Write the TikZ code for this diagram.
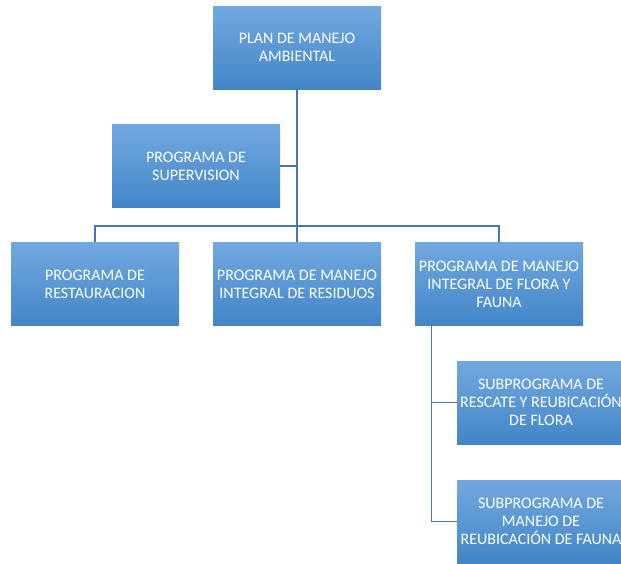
\documentclass[tikz,border=0pt]{standalone}
\usepackage{fontspec}
\setmainfont{Carlito}
\definecolor{boxtop}{RGB}{114, 168, 223}
\definecolor{boxbottom}{RGB}{66, 134, 200}
\definecolor{line}{RGB}{72, 118, 178}

\tikzset{
    prog/.style = {rectangle, minimum width = 168pt, minimum height = 83pt, inner sep = 0pt,
        top color = boxtop, bottom color = boxbottom, text = white, align = center,
        font = \fontsize{16}{18}\selectfont},
    link/.style = {draw = line, line width = 1.2pt}
}

\begin{document}
\begin{tikzpicture}[x = 1pt, y = -1pt]
    \useasboundingbox (0,0) rectangle (621,563);

    \node[prog] (plan) at (297,47.5) {PLAN DE MANEJO\\AMBIENTAL};
    \node[prog] (supervision) at (196,166) {PROGRAMA DE\\SUPERVISION};

    \node[prog] (restauracion) at (95,284) {PROGRAMA DE\\RESTAURACION};
    \node[prog] (residuos) at (297,284) {PROGRAMA DE MANEJO\\INTEGRAL DE RESIDUOS};
    \node[prog] (flora) at (499,284) {PROGRAMA DE MANEJO\\INTEGRAL DE FLORA Y\\FAUNA};

    \node[prog] (subflora) at (541,402.5) {SUBPROGRAMA DE\\RESCATE Y REUBICACIÓN\\DE FLORA};
    \node[prog] (subfauna) at (541,521.5) {SUBPROGRAMA DE\\MANEJO DE\\REUBICACIÓN DE FAUNA};

    % tree lines
    \coordinate (bus) at (297,226);
    \coordinate (stem) at ([xshift = 17pt]flora.south west);
    \draw[link] (plan.south) -- (residuos.north);
    \draw[link] (supervision.east) -- (supervision.east -| plan.south);
    \draw[link] (restauracion.north) |- (bus) -| (flora.north);
    \draw[link] (stem) |- (subflora.west);
    \draw[link] (stem) |- (subfauna.west);
\end{tikzpicture}
\end{document}
